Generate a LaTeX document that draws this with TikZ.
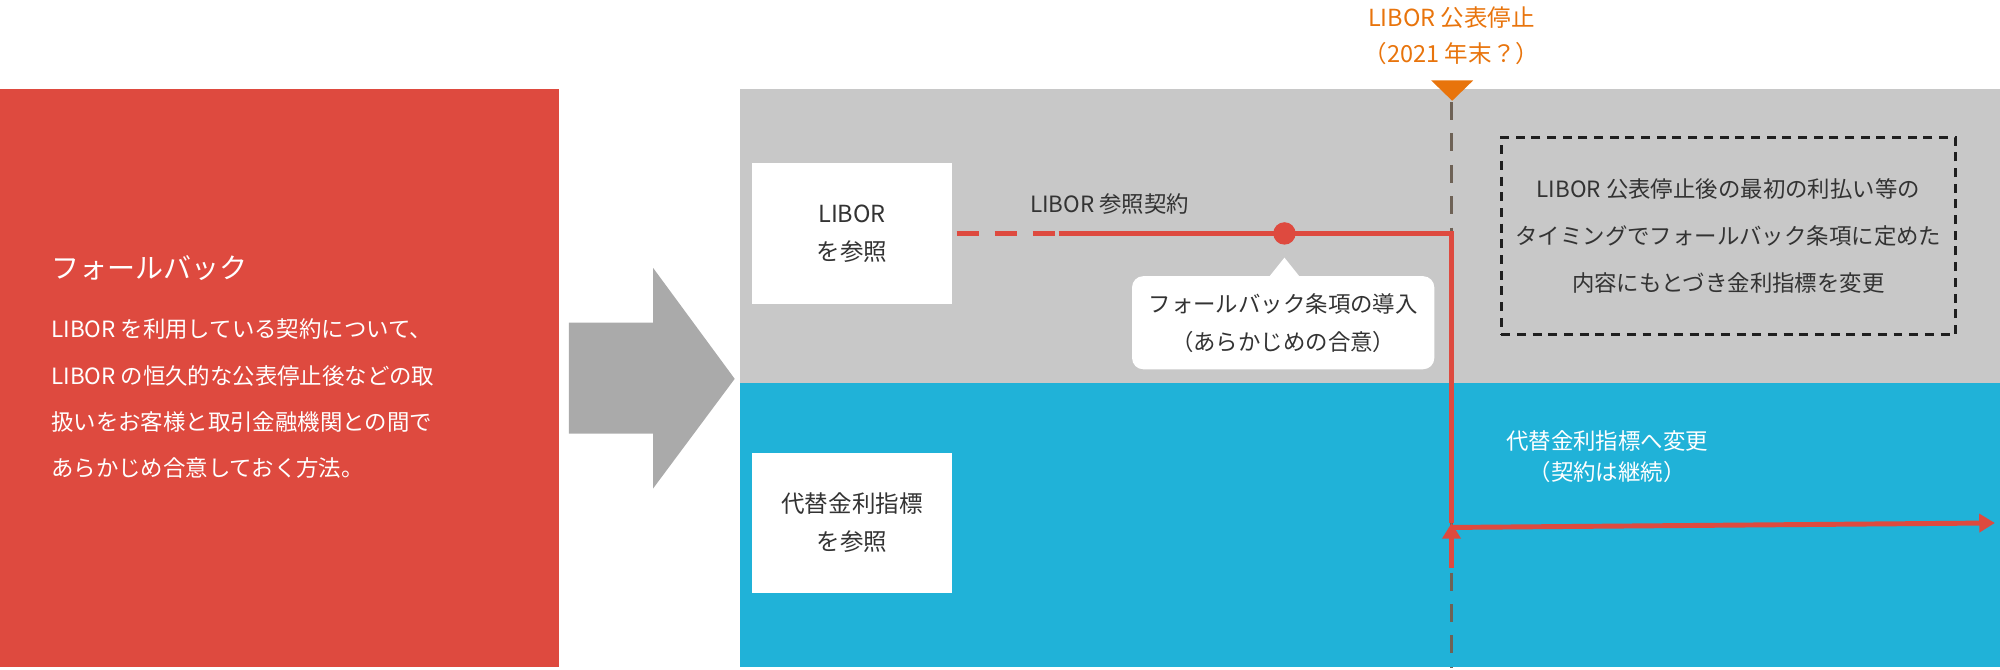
\documentclass[tikz,border=0pt]{standalone}
\usepackage{fontspec}
\setmainfont{Noto Sans CJK JP}
\usetikzlibrary{arrows.meta,positioning,shapes.geometric}
\definecolor{fbred}{HTML}{DE4A3F}
\definecolor{fbgray}{HTML}{C8C8C8}
\definecolor{fbblue}{HTML}{20B2D8}
\definecolor{fborange}{HTML}{E8740C}
\definecolor{fbline}{HTML}{6E6256}
\definecolor{fbtext}{HTML}{333333}
\tikzset{
  whitebox/.style={fill=white, minimum width=3.14cm, minimum height=2.2cm, align=center, text=fbtext, font=\fontsize{10.5}{17}\selectfont},
  redline/.style={draw=fbred, line width=2.2pt},
  wtext/.style={text=white, font=\fontsize{10}{13}\selectfont, anchor=west}
}
\begin{document}
\begin{tikzpicture}[x=0.02cm, y=-0.02cm, >={Triangle[length=7pt,width=8pt]}]
  \useasboundingbox (0,0) rectangle (1568,525);
  % left panel
  \fill[fbred] (0,70) rectangle (438,523);
  \node[text=white, anchor=west, font=\fontsize{12.5}{15}\selectfont] (title) at (34,210) {フォールバック};
  \node[wtext] (l1) at (34,258) {LIBOR を利用している契約について、};
  \node[wtext] (l2) at (34,295) {LIBOR の恒久的な公表停止後などの取};
  \node[wtext] (l3) at (34,331) {扱いをお客様と取引金融機関との間で};
  \node[wtext] (l4) at (34,367) {あらかじめ合意しておく方法。};
  % big arrow
  \fill[fbgray!85!black] (446,253) -- (512,253) -- (512,210) -- (576,297) -- (512,383) -- (512,340) -- (446,340) -- cycle;
  % panels
  \fill[fbgray] (580,70) rectangle (1568,300);
  \fill[fbblue] (580,300) rectangle (1568,523);
  \node[whitebox] (libor) at (668,183) {LIBOR\\を参照};
  \node[whitebox] (alt) at (668,410) {代替金利指標\\を参照};
  % time marker
  \draw[fbline, line width=1.6pt, dash pattern=on 8pt off 6pt] (1138,80) -- (1138,523);
  \fill[fborange] (1122,63) -- (1155,63) -- (1138.5,79) -- cycle;
  \node[text=fborange, align=center, font=\fontsize{10.5}{16}\selectfont] (stop) at (1138,28) {LIBOR 公表停止\\（2021 年末？）};
  % contract line
  \coordinate (s) at (750,183);
  \coordinate (d) at (830,183);
  \coordinate (c) at (1007,183);
  \coordinate (k) at (1138,183);
  \coordinate (m) at (1138,410);
  \coordinate (e) at (1564,410);
  \draw[redline, dash pattern=on 10pt off 7pt] (s) -- (d);
  \draw[redline] (d) -- (k) -- (m);
  \draw[redline, ->] ([yshift=-2pt]m) -- (e);
  \draw[redline, ->] ([yshift=-20pt]m) -- (m);
  \fill[fbred] (c) circle (5pt);
  \node[text=fbtext, font=\fontsize{10}{12}\selectfont] (ctr) at (870,160) {LIBOR 参照契約};
  % callout
  \fill[white] (995,217) -- (1007,202) -- (1019,217) -- cycle;
  \node[fill=white, rounded corners=5pt, minimum width=4.74cm, minimum height=1.46cm, align=center, text=fbtext, font=\fontsize{10}{17}\selectfont] (intro) at (1006,253) {フォールバック条項の導入\\（あらかじめの合意）};
  % dashed note
  \node[draw=fbtext!60!black, line width=1.4pt, dash pattern=on 4pt off 3pt, minimum width=7.12cm, minimum height=3.1cm, align=center, text=fbtext, font=\fontsize{10}{21}\selectfont] (note) at (1355,185) {LIBOR 公表停止後の最初の利払い等の\\タイミングでフォールバック条項に定めた\\内容にもとづき金利指標を変更};
  \node[text=white, align=center, font=\fontsize{10}{14}\selectfont] (chg) at (1260,358) {代替金利指標へ変更\\（契約は継続）};
\end{tikzpicture}
\end{document}
